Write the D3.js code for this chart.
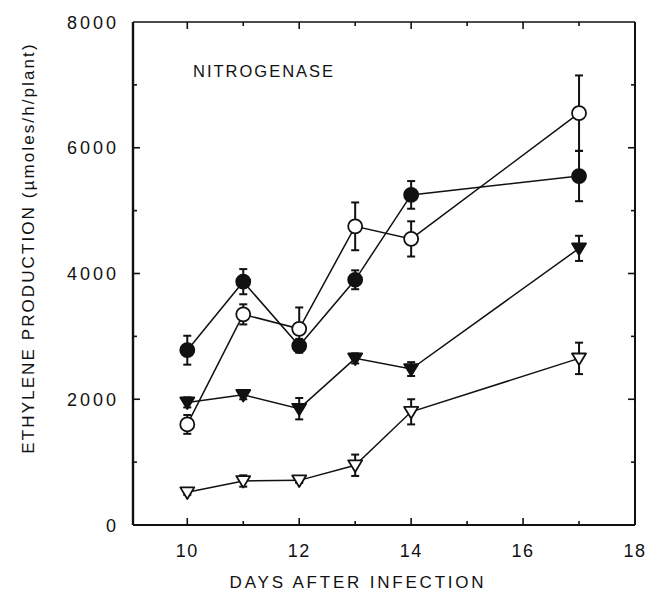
<!DOCTYPE html>
<html>
<head>
<meta charset="utf-8">
<script src="https://cdn.jsdelivr.net/npm/d3@7"></script>
<style>
  html, body { margin: 0; padding: 0; background: #fff; }
  svg { display: block; }
  text { font-family: "Liberation Sans", Arial, sans-serif; fill: #111; }
</style>
</head>
<body>
<svg id="chart" width="646" height="594"></svg>
<script>
// Days after infection at which nitrogenase activity was measured
const days = [10, 11, 12, 13, 14, 17];

// Ethylene production (µmoles/h/plant) and standard errors per treatment
const filledCircle = [2780, 3870, 2850, 3900, 5250, 5550];
const filledCircleErr = [230, 200, 110, 150, 220, 400];

const openCircle = [1600, 3350, 3120, 4750, 4550, 6550];
const openCircleErr = [150, 160, 340, 380, 280, 600];

const filledTriangle = [1950, 2070, 1850, 2650, 2480, 4400];
const filledTriangleErr = [80, 70, 170, 80, 110, 200];

const openTriangle = [520, 700, 710, 950, 1800, 2650];
const openTriangleErr = [40, 90, 40, 170, 200, 250];

const xTicks = [10, 12, 14, 16, 18];
const xMinorTicks = [11, 13, 15, 17];
const yTicks = [0, 2000, 4000, 6000, 8000];
const yMinorTicks = [1000, 3000, 5000, 7000];

const series = [
  { values: filledCircle, err: filledCircleErr, shape: "circle", filled: true },
  { values: openCircle, err: openCircleErr, shape: "circle", filled: false },
  { values: filledTriangle, err: filledTriangleErr, shape: "triangle", filled: true },
  { values: openTriangle, err: openTriangleErr, shape: "triangle", filled: false }
];

const svg = d3.select("#chart");
const plotLeft = 133, plotRight = 635, plotTop = 22, plotBottom = 525;

const x = d3.scaleLinear().domain([9.03, 18]).range([plotLeft, plotRight]);
const y = d3.scaleLinear().domain([0, 8000]).range([plotBottom, plotTop]);

// Frame: heavier left and bottom axes, lighter top and right
const frame = svg.append("g").attr("stroke", "#111").attr("fill", "none");
frame.append("line").attr("x1", plotLeft).attr("x2", plotLeft).attr("y1", plotTop).attr("y2", plotBottom).attr("stroke-width", 2.4);
frame.append("line").attr("x1", plotLeft).attr("x2", plotRight).attr("y1", plotBottom).attr("y2", plotBottom).attr("stroke-width", 2);
frame.append("line").attr("x1", plotLeft).attr("x2", plotRight).attr("y1", plotTop).attr("y2", plotTop).attr("stroke-width", 1.6);
frame.append("line").attr("x1", plotRight).attr("x2", plotRight).attr("y1", plotTop).attr("y2", plotBottom).attr("stroke-width", 2);

// Inward ticks on all four sides
const tickG = svg.append("g").attr("stroke", "#111").attr("stroke-width", 1.6);
xTicks.concat(xMinorTicks).forEach(t => {
  const len = xTicks.includes(t) ? 7 : 4;
  if (x(t) >= plotRight - 1) return;
  tickG.append("line").attr("x1", x(t)).attr("x2", x(t)).attr("y1", plotBottom).attr("y2", plotBottom - len);
  tickG.append("line").attr("x1", x(t)).attr("x2", x(t)).attr("y1", plotTop).attr("y2", plotTop + len);
});
yTicks.concat(yMinorTicks).forEach(t => {
  const len = yTicks.includes(t) ? 7 : 4;
  if (t === 0 || t === 8000) return;
  tickG.append("line").attr("x1", plotLeft).attr("x2", plotLeft + len).attr("y1", y(t)).attr("y2", y(t));
  tickG.append("line").attr("x1", plotRight).attr("x2", plotRight - len).attr("y1", y(t)).attr("y2", y(t));
});

// Tick labels
svg.append("g").selectAll("text").data(xTicks).join("text")
  .attr("x", d => x(d)).attr("y", 557)
  .attr("text-anchor", "middle").attr("font-size", 18)
  .attr("letter-spacing", 1.5)
  .text(d => d);
svg.append("g").selectAll("text").data(yTicks).join("text")
  .attr("x", 119).attr("y", d => y(d) + 6.5)
  .attr("text-anchor", "end").attr("font-size", 18)
  .attr("letter-spacing", 3)
  .text(d => d);

// Axis titles
svg.append("text")
  .attr("x", 358).attr("y", 588)
  .attr("text-anchor", "middle").attr("font-size", 17)
  .attr("letter-spacing", 2.8)
  .text("DAYS AFTER INFECTION");
svg.append("text")
  .attr("transform", `translate(34, 248) rotate(-90)`)
  .attr("text-anchor", "middle").attr("font-size", 17)
  .attr("letter-spacing", 2.1)
  .text("ETHYLENE PRODUCTION (µmoles/h/plant)");

// Panel label
svg.append("text")
  .attr("x", 193).attr("y", 77)
  .attr("font-size", 16.5)
  .attr("letter-spacing", 2)
  .text("NITROGENASE");

// Series
const line = d3.line().x(d => x(d[0])).y(d => y(d[1]));
const triPath = (cx, cy, s) =>
  `M${cx - s},${cy - s * 0.7}L${cx + s},${cy - s * 0.7}L${cx},${cy + s * 0.95}Z`;

series.forEach(s => {
  const pts = days.map((d, i) => [d, s.values[i], s.err[i]]);
  const g = svg.append("g");

  g.append("path")
    .attr("d", line(pts))
    .attr("fill", "none").attr("stroke", "#111").attr("stroke-width", 1.5);

  // Error bars with caps
  pts.forEach(p => {
    const cx = x(p[0]);
    g.append("line").attr("x1", cx).attr("x2", cx)
      .attr("y1", y(p[1] + p[2])).attr("y2", y(p[1] - p[2]))
      .attr("stroke", "#111").attr("stroke-width", 2);
    [p[1] + p[2], p[1] - p[2]].forEach(v => {
      g.append("line").attr("x1", cx - 4).attr("x2", cx + 4)
        .attr("y1", y(v)).attr("y2", y(v))
        .attr("stroke", "#111").attr("stroke-width", 2);
    });
  });

  // Markers
  pts.forEach(p => {
    const cx = x(p[0]), cy = y(p[1]);
    if (s.shape === "circle") {
      g.append("circle").attr("cx", cx).attr("cy", cy).attr("r", 7)
        .attr("fill", s.filled ? "#111" : "#fff")
        .attr("stroke", "#111").attr("stroke-width", 1.8);
    } else {
      g.append("path").attr("d", triPath(cx, cy, 7))
        .attr("fill", s.filled ? "#111" : "#fff")
        .attr("stroke", "#111").attr("stroke-width", 1.8)
        .attr("stroke-linejoin", "round");
    }
  });
});
</script>
</body>
</html>
